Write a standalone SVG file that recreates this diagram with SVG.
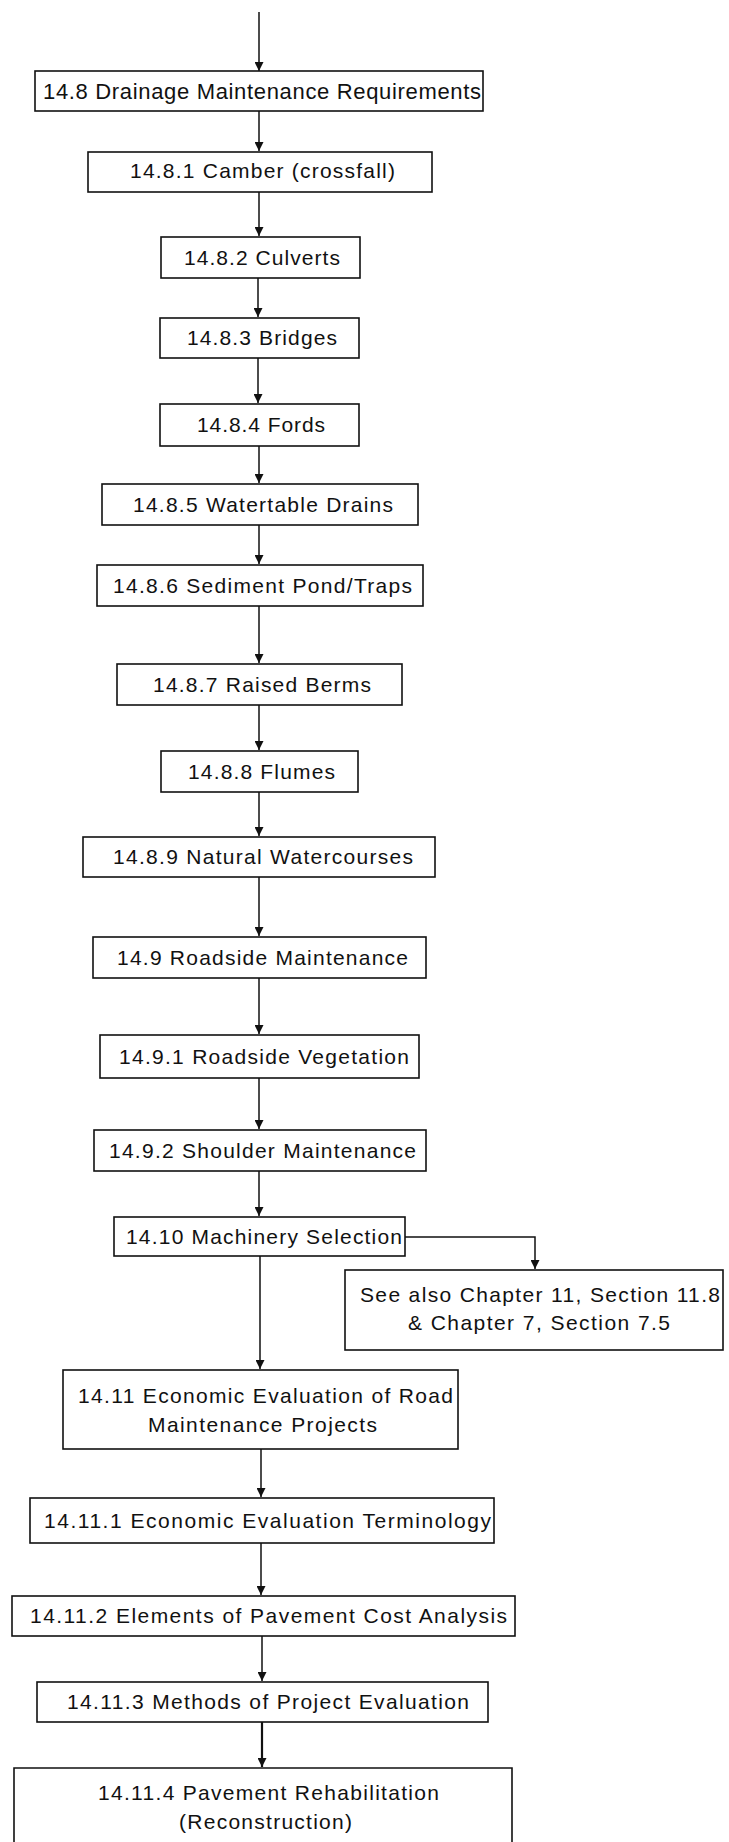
<svg xmlns="http://www.w3.org/2000/svg" width="729" height="1842" viewBox="0 0 729 1842">
<style>
.b{fill:none;stroke:#111;stroke-width:1.6}
.t{font-family:"Liberation Sans",Arial,sans-serif;font-size:21px;fill:#111}
.c{fill:none;stroke:#111;stroke-width:1.5}
</style>
<defs>
<marker id="ah" markerUnits="userSpaceOnUse" markerWidth="9" markerHeight="9" refX="9" refY="4.5" orient="auto">
<path d="M0,0 L9,4.5 L0,9 z" fill="#111"/>
</marker>
</defs>
<rect width="729" height="1842" fill="#fff"/>
<g id="connectors">
<line class="c" x1="259" y1="12" x2="259" y2="71" marker-end="url(#ah)"/>
<line class="c" x1="259" y1="111" x2="259" y2="151" marker-end="url(#ah)"/>
<line class="c" x1="259" y1="192" x2="259" y2="236" marker-end="url(#ah)"/>
<line class="c" x1="258" y1="278" x2="258" y2="317" marker-end="url(#ah)"/>
<line class="c" x1="258" y1="358" x2="258" y2="403" marker-end="url(#ah)"/>
<line class="c" x1="259" y1="446" x2="259" y2="483" marker-end="url(#ah)"/>
<line class="c" x1="259" y1="525" x2="259" y2="564" marker-end="url(#ah)"/>
<line class="c" x1="259" y1="606" x2="259" y2="663" marker-end="url(#ah)"/>
<line class="c" x1="259" y1="705" x2="259" y2="750" marker-end="url(#ah)"/>
<line class="c" x1="259" y1="792" x2="259" y2="836" marker-end="url(#ah)"/>
<line class="c" x1="259" y1="877" x2="259" y2="936" marker-end="url(#ah)"/>
<line class="c" x1="259" y1="978" x2="259" y2="1034" marker-end="url(#ah)"/>
<line class="c" x1="259" y1="1078" x2="259" y2="1129" marker-end="url(#ah)"/>
<line class="c" x1="259" y1="1171" x2="259" y2="1216" marker-end="url(#ah)"/>
<line class="c" x1="260" y1="1256" x2="260" y2="1369" marker-end="url(#ah)"/>
<polyline class="c" points="405,1237 535,1237 535,1269" marker-end="url(#ah)"/>
<line class="c" x1="261" y1="1449" x2="261" y2="1497" marker-end="url(#ah)"/>
<line class="c" x1="261" y1="1543" x2="261" y2="1595" marker-end="url(#ah)"/>
<line class="c" x1="262" y1="1636" x2="262" y2="1681" marker-end="url(#ah)"/>
<line class="c" x1="262" y1="1722" x2="262" y2="1767" marker-end="url(#ah)" style="stroke-width:2.2"/>
</g>
<g id="n1"><rect class="b" x="35" y="71" width="448" height="40"/><text class="t" x="43" y="99" textLength="438" lengthAdjust="spacing" style="font-size:22px">14.8 Drainage Maintenance Requirements</text></g>
<g id="n2"><rect class="b" x="88" y="152" width="344" height="40"/><text class="t" x="130" y="178" textLength="265" lengthAdjust="spacing">14.8.1 Camber (crossfall)</text></g>
<g id="n3"><rect class="b" x="161" y="237" width="199" height="41"/><text class="t" x="184" y="265" textLength="156" lengthAdjust="spacing">14.8.2 Culverts</text></g>
<g id="n4"><rect class="b" x="160" y="318" width="199" height="40"/><text class="t" x="187" y="345" textLength="150" lengthAdjust="spacing">14.8.3 Bridges</text></g>
<g id="n5"><rect class="b" x="160" y="404" width="199" height="42"/><text class="t" x="197" y="432" textLength="128" lengthAdjust="spacing">14.8.4 Fords</text></g>
<g id="n6"><rect class="b" x="102" y="484" width="316" height="41"/><text class="t" x="133" y="512" textLength="260" lengthAdjust="spacing">14.8.5 Watertable Drains</text></g>
<g id="n7"><rect class="b" x="97" y="565" width="326" height="41"/><text class="t" x="113" y="593" textLength="299" lengthAdjust="spacing">14.8.6 Sediment Pond/Traps</text></g>
<g id="n8"><rect class="b" x="117" y="664" width="285" height="41"/><text class="t" x="153" y="692" textLength="218" lengthAdjust="spacing">14.8.7 Raised Berms</text></g>
<g id="n9"><rect class="b" x="161" y="751" width="197" height="41"/><text class="t" x="188" y="779" textLength="147" lengthAdjust="spacing">14.8.8 Flumes</text></g>
<g id="n10"><rect class="b" x="83" y="837" width="352" height="40"/><text class="t" x="113" y="864" textLength="300" lengthAdjust="spacing">14.8.9 Natural Watercourses</text></g>
<g id="n11"><rect class="b" x="93" y="937" width="333" height="41"/><text class="t" x="117" y="965" textLength="291" lengthAdjust="spacing">14.9 Roadside Maintenance</text></g>
<g id="n12"><rect class="b" x="100" y="1035" width="319" height="43"/><text class="t" x="119" y="1064" textLength="290" lengthAdjust="spacing">14.9.1 Roadside Vegetation</text></g>
<g id="n13"><rect class="b" x="94" y="1130" width="332" height="41"/><text class="t" x="109" y="1158" textLength="307" lengthAdjust="spacing">14.9.2 Shoulder Maintenance</text></g>
<g id="n14"><rect class="b" x="114" y="1217" width="291" height="39"/><text class="t" x="126" y="1244" textLength="276" lengthAdjust="spacing">14.10 Machinery Selection</text></g>
<g id="n15"><rect class="b" x="345" y="1270" width="378" height="80"/><text class="t" x="360" y="1302" textLength="360" lengthAdjust="spacing">See also Chapter 11, Section 11.8</text><text class="t" x="408" y="1330" textLength="262" lengthAdjust="spacing">&amp; Chapter 7, Section 7.5</text></g>
<g id="n16"><rect class="b" x="63" y="1370" width="395" height="79"/><text class="t" x="78" y="1403" textLength="375" lengthAdjust="spacing">14.11 Economic Evaluation of Road</text><text class="t" x="148" y="1432" textLength="229" lengthAdjust="spacing">Maintenance Projects</text></g>
<g id="n17"><rect class="b" x="30" y="1498" width="464" height="45"/><text class="t" x="44" y="1528" textLength="447" lengthAdjust="spacing">14.11.1 Economic Evaluation Terminology</text></g>
<g id="n18"><rect class="b" x="12" y="1596" width="503" height="40"/><text class="t" x="30" y="1623" textLength="477" lengthAdjust="spacing">14.11.2 Elements of Pavement Cost Analysis</text></g>
<g id="n19"><rect class="b" x="37" y="1682" width="451" height="40"/><text class="t" x="67" y="1709" textLength="402" lengthAdjust="spacing">14.11.3 Methods of Project Evaluation</text></g>
<g id="n20"><path class="b" d="M14,1842 L14,1768 L512,1768 L512,1842"/><text class="t" x="98" y="1800" textLength="341" lengthAdjust="spacing">14.11.4 Pavement Rehabilitation</text><text class="t" x="179" y="1829" textLength="173" lengthAdjust="spacing">(Reconstruction)</text></g>
</svg>
